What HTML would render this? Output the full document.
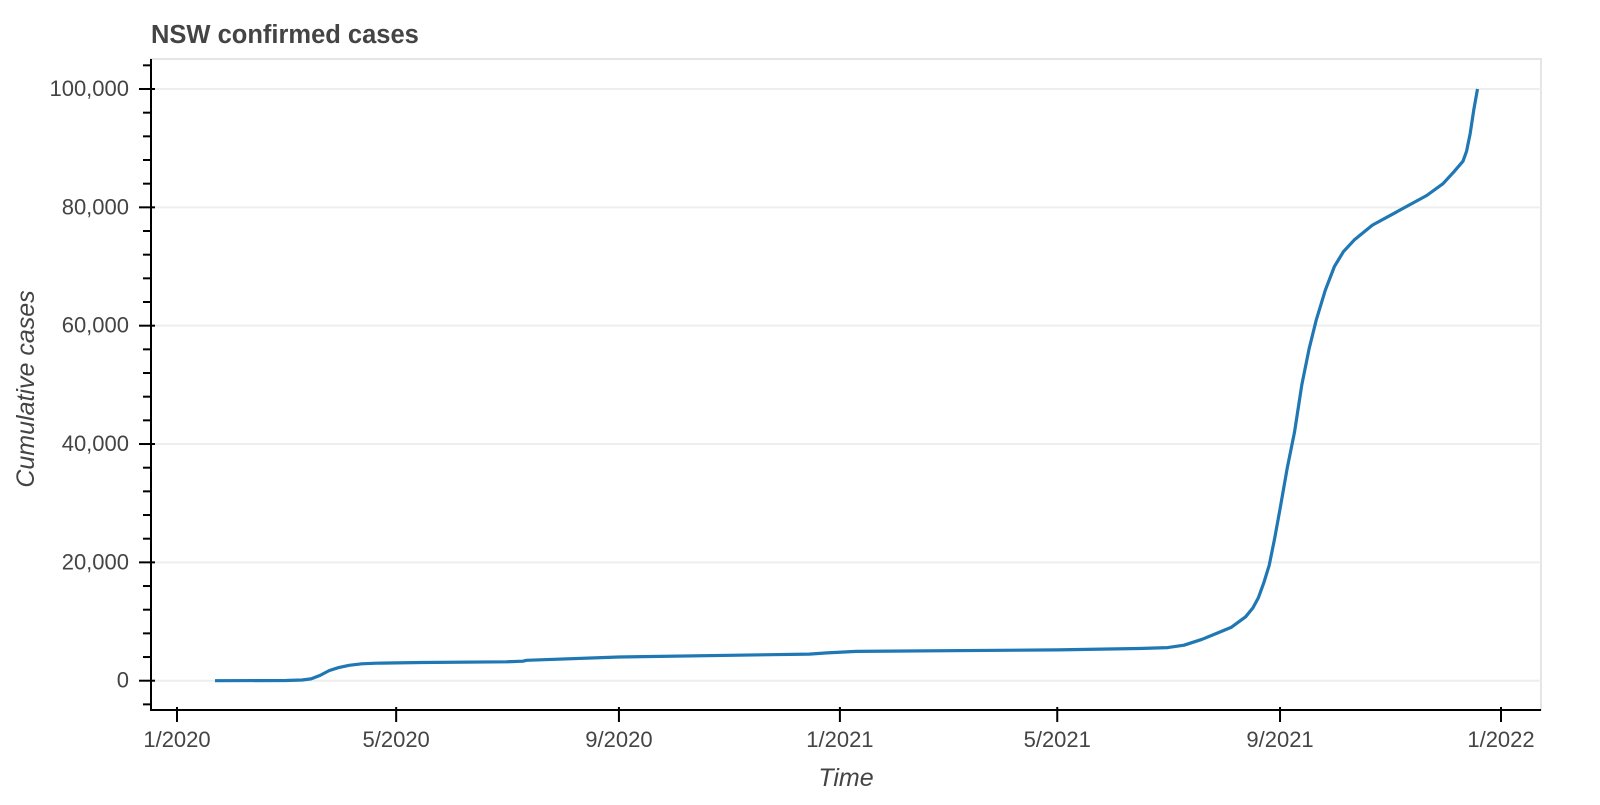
<!DOCTYPE html>
<html><head><meta charset="utf-8"><style>
html,body{margin:0;padding:0;background:#fff;}
svg text{font-family:"Liberation Sans",Helvetica,Arial,sans-serif;fill:#444;}
</style></head><body>
<svg id="chart" width="1600" height="800" xmlns="http://www.w3.org/2000/svg">
<text x="151" y="43" font-size="25.5" font-weight="bold">NSW confirmed cases</text>
<rect x="151" y="59" width="1390" height="651" fill="none" stroke="#e5e5e5" stroke-width="2"/>
<g id="grid"></g>
<g id="series"></g>
<g id="axes"></g>
<text transform="translate(34,389) rotate(-90)" text-anchor="middle" font-size="25" font-style="italic">Cumulative cases</text>
<text x="846" y="786" text-anchor="middle" font-size="25" font-style="italic">Time</text>
</svg>
<script>
const dates = ["2020-01-22","2020-03-01","2020-03-10","2020-03-15","2020-03-20","2020-03-25","2020-03-30","2020-04-05","2020-04-12","2020-04-20","2020-05-15","2020-07-01","2020-07-10","2020-07-12","2020-09-01","2020-12-15","2020-12-25","2021-01-10","2021-05-01","2021-06-15","2021-07-01","2021-07-10","2021-07-20","2021-07-28","2021-08-05","2021-08-13","2021-08-17","2021-08-20","2021-08-23","2021-08-26","2021-08-29","2021-09-01","2021-09-05","2021-09-09","2021-09-13","2021-09-17","2021-09-21","2021-09-26","2021-10-01","2021-10-06","2021-10-12","2021-10-22","2021-11-03","2021-11-12","2021-11-21","2021-11-30","2021-12-06","2021-12-11","2021-12-13","2021-12-15","2021-12-17","2021-12-19"];
const cases = [0,30,120,300,900,1700,2200,2600,2850,2950,3080,3200,3300,3450,4000,4500,4700,4950,5200,5450,5600,6000,7000,8000,9000,10800,12300,14000,16500,19500,24000,29000,36000,42000,50000,56000,61000,66000,70000,72500,74500,77000,79000,80500,82000,84000,86000,87800,89500,92500,96500,100000];
const yTicks = [0,20000,40000,60000,80000,100000];
const xTickLabels = ["1/2020","5/2020","9/2020","1/2021","5/2021","9/2021","1/2022"];
const xTickDates = ["2020-01-01","2020-05-01","2020-09-01","2021-01-01","2021-05-01","2021-09-01","2022-01-01"];

const NS="http://www.w3.org/2000/svg";
const t0=Date.UTC(2020,0,1);
function day(s){const p=s.split("-");return (Date.UTC(+p[0],+p[1]-1,+p[2])-t0)/86400000;}
function xs(s){return 177+day(s)*1324/731;}
function ys(v){return 680.7-v*591.7/100000;}
function el(tag,attrs,parent){const e=document.createElementNS(NS,tag);for(const k in attrs)e.setAttribute(k,attrs[k]);parent.appendChild(e);return e;}
const grid=document.getElementById("grid"),axes=document.getElementById("axes"),series=document.getElementById("series");

yTicks.forEach(v=>{
  const g=el("line",{x1:151,x2:1541,y1:ys(v),y2:ys(v),stroke:"#eeeeee","stroke-width":2},grid);
  
  
});
const ya=el("line",{x1:151,x2:151,y1:59,y2:711,stroke:"#000","stroke-width":2},axes);


for(let v=-4000;v<=104000;v+=4000){
  const major=v%20000===0;
  const t=el("line",{x1:major?139:143,x2:major?155:151,y1:ys(v),y2:ys(v),stroke:"#000","stroke-width":2},axes);
  
  
}
yTicks.forEach(v=>{
  const t=el("text",{x:129,y:ys(v)+7,"text-anchor":"end","font-size":22},axes);
  t.textContent=v.toLocaleString("en-US");
  
  
});
const xa=el("line",{x1:150,x2:1541,y1:710,y2:710,stroke:"#000","stroke-width":2},axes);


xTickDates.forEach((d,i)=>{
  const x=xs(d);
  const t=el("line",{x1:x,x2:x,y1:707,y2:722,stroke:"#000","stroke-width":2},axes);
  
  
  const l=el("text",{x:x,y:747,"text-anchor":"middle","font-size":22},axes);
  l.textContent=xTickLabels[i];
  
  
});
const pts=dates.map((d,i)=>xs(d).toFixed(1)+","+ys(cases[i]).toFixed(1)).join(" ");
const pl=el("polyline",{points:pts,fill:"none",stroke:"#1f77b4","stroke-width":3.2,"stroke-linejoin":"round","stroke-linecap":"butt"},series);


</script>
</body></html>
